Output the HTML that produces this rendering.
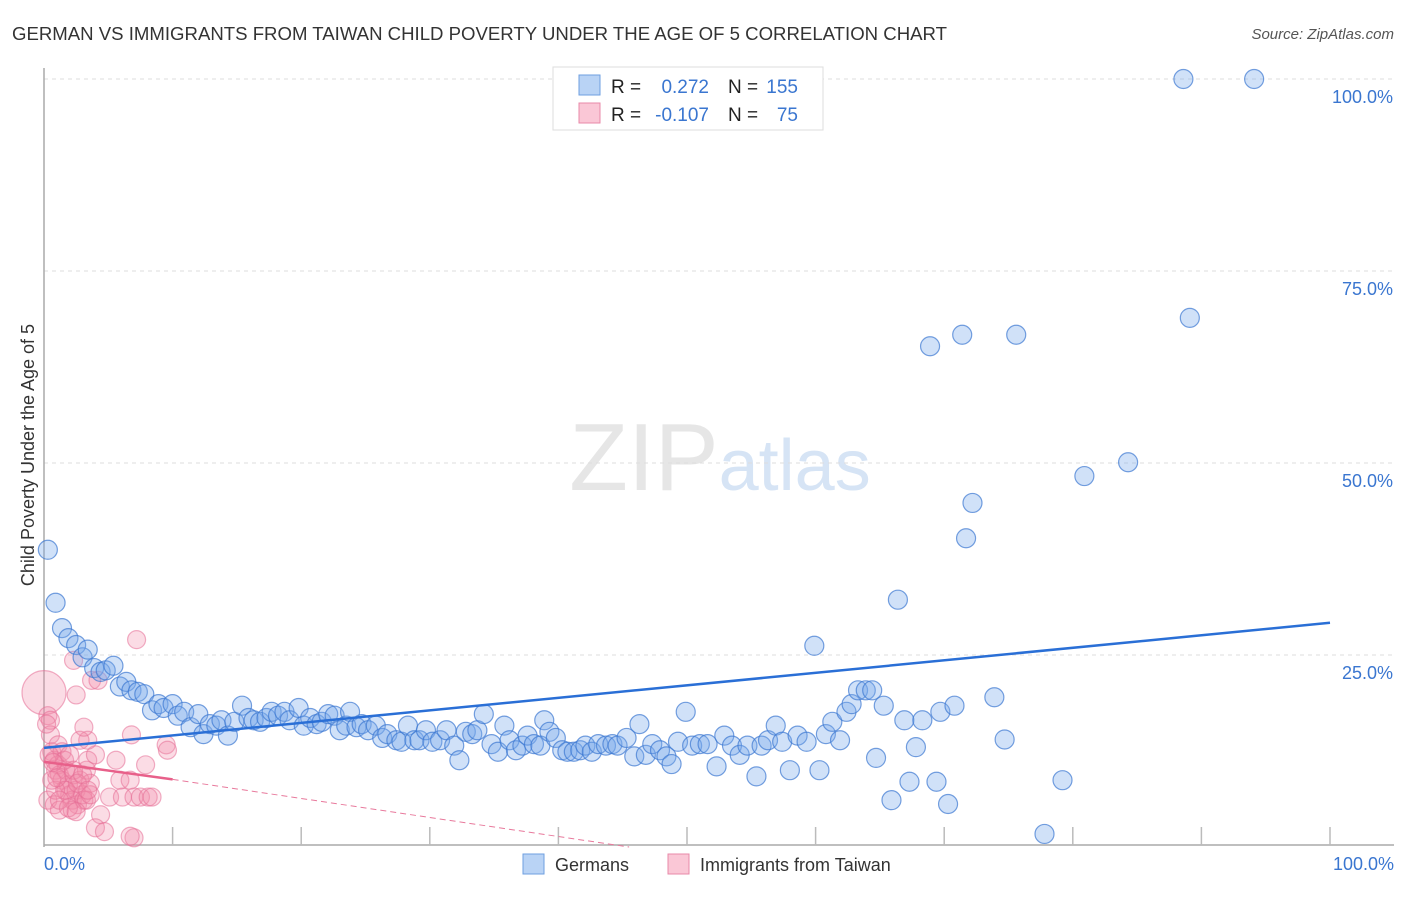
<!DOCTYPE html>
<html><head><meta charset="utf-8"><style>
body{margin:0;background:#fff;font-family:"Liberation Sans",sans-serif;}
svg text{font-family:"Liberation Sans",sans-serif;}
</style></head><body>
<svg id="chart" width="1406" height="892" viewBox="0 0 1406 892">
<text x="12" y="40" font-size="18.6" fill="#333">GERMAN VS IMMIGRANTS FROM TAIWAN CHILD POVERTY UNDER THE AGE OF 5 CORRELATION CHART</text>
<text x="1394" y="39" font-size="15" fill="#555" text-anchor="end" font-style="italic">Source: ZipAtlas.com</text>
<text x="720" y="490" font-size="96" fill="#e6e6e6" text-anchor="middle" font-family="Liberation Serif">ZIP<tspan fill="#d6e4f5" font-family="Liberation Sans" font-size="72">atlas</tspan></text>
<g id="grid"></g><g id="axes"></g><g id="pink"></g><g id="blue"></g><g id="lines"></g>
<text transform="translate(34,455) rotate(-90)" font-size="18" fill="#333" text-anchor="middle">Child Poverty Under the Age of 5</text>
<text x="44" y="870" font-size="18" fill="#3a76d0">0.0%</text>
<text x="1394" y="870" font-size="18" fill="#3a76d0" text-anchor="end">100.0%</text>
<g>
<rect x="553" y="67" width="270" height="63" fill="#fff" stroke="#ddd"/>
<rect x="579" y="75" width="21" height="20" fill="#b9d3f5" stroke="#6e9fe0"/>
<rect x="579" y="103" width="21" height="20" fill="#fac7d6" stroke="#e889a8"/>
<text x="611" y="93" font-size="19" fill="#222">R =</text><text x="709" y="93" font-size="19" fill="#3a76d0" text-anchor="end">0.272</text>
<text x="728" y="93" font-size="19" fill="#222">N =</text><text x="798" y="93" font-size="19" fill="#3a76d0" text-anchor="end">155</text>
<text x="611" y="121" font-size="19" fill="#222">R =</text><text x="709" y="121" font-size="19" fill="#3a76d0" text-anchor="end">-0.107</text>
<text x="728" y="121" font-size="19" fill="#222">N =</text><text x="798" y="121" font-size="19" fill="#3a76d0" text-anchor="end">75</text>
</g>
<g>
<rect x="523" y="854" width="21" height="20" fill="#b9d3f5" stroke="#6e9fe0"/>
<text x="555" y="871" font-size="18" fill="#333">Germans</text>
<rect x="668" y="854" width="21" height="20" fill="#fac7d6" stroke="#e889a8"/>
<text x="700" y="871" font-size="18" fill="#333">Immigrants from Taiwan</text>
</g>
</svg>
<script>
const yTicks=[25,50,75,100];
const yTickLabels=["25.0%","50.0%","75.0%","100.0%"];
const xTicks=[0,10,20,30,40,50,60,70,80,90,100];
const blueX=[0.3,0.9,1.4,1.9,2.5,3.0,3.4,3.9,4.4,4.8,5.4,5.9,6.4,6.8,7.3,7.8,8.4,8.9,9.3,10.0,10.4,10.9,11.4,12.0,12.4,12.9,13.4,13.8,14.3,14.8,15.4,15.9,16.3,16.8,17.3,17.7,18.2,18.7,19.1,19.8,20.2,20.7,21.2,21.6,22.1,22.6,23.0,23.5,23.8,24.3,24.7,25.2,25.8,26.3,26.7,27.4,27.8,28.3,28.8,29.2,29.7,30.2,30.8,31.3,31.9,32.3,32.8,33.3,33.7,34.2,34.8,35.3,35.8,36.2,36.7,37.2,37.6,38.1,38.6,38.9,39.3,39.8,40.3,40.7,41.2,41.7,42.1,42.6,43.1,43.7,44.2,44.6,45.3,45.9,46.3,46.8,47.3,47.9,48.4,48.8,49.3,49.9,50.4,51.0,51.6,52.3,52.9,53.5,54.1,54.7,55.4,55.8,56.3,56.9,57.4,58.0,58.6,59.3,59.9,60.3,60.8,61.3,61.9,62.4,62.8,63.3,63.9,64.4,64.7,65.3,65.9,66.4,66.9,67.3,67.8,68.3,68.9,69.4,69.7,70.3,70.8,71.4,71.7,72.2,73.9,74.7,75.6,77.8,79.2,80.9,84.3,88.6,89.1,94.1];
const blueY=[38.7,31.8,28.5,27.2,26.3,24.7,25.7,23.3,22.8,23.0,23.6,20.9,21.5,20.4,20.2,19.9,17.8,18.6,18.1,18.6,17.1,17.6,15.6,17.3,14.7,16.0,15.8,16.5,14.5,16.3,18.4,16.8,16.5,16.3,16.8,17.6,17.1,17.6,16.5,18.1,15.8,16.8,16.0,16.3,17.3,17.1,15.2,15.8,17.6,15.6,16.0,15.2,15.8,14.2,14.7,13.9,13.7,15.8,13.9,13.9,15.2,13.7,13.9,15.2,13.2,11.3,15.0,14.7,15.2,17.3,13.4,12.4,15.8,13.9,12.6,13.2,14.5,13.4,13.2,16.5,15.0,14.2,12.6,12.4,12.4,12.6,13.2,12.4,13.4,13.2,13.4,13.2,14.2,11.8,16.0,12.0,13.4,12.6,11.8,10.8,13.7,17.6,13.2,13.4,13.4,10.5,14.5,13.2,12.0,13.2,9.2,13.2,13.9,15.8,13.7,10.0,14.5,13.7,26.2,10.0,14.7,16.3,13.9,17.6,18.6,20.4,20.4,20.4,11.6,18.4,6.1,32.2,16.5,8.5,13.0,16.5,65.2,8.5,17.6,5.6,18.4,66.7,40.2,44.8,19.5,14.0,66.7,1.7,8.7,48.3,50.1,100,68.9,100];
const pinkX=[0,0.3,0.5,0.5,0.6,0.8,0.9,1.1,1.2,1.4,1.6,1.7,1.9,2.0,2.2,2.3,2.5,2.6,2.8,3.0,3.1,3.3,3.4,3.6,3.7,4.0,4.4,2.3,2.5,4.2,3.4,0.3,0.8,1.2,1.7,2.2,2.8,3.1,4.0,4.7,5.1,5.6,5.9,6.1,6.8,7.2,6.7,7.0,7.5,7.9,8.1,8.4,9.5,9.6,7.0,6.7,1.1,1.4,1.6,2.0,2.3,2.6,3.0,3.3,3.6,0.9,0.6,1.2,1.9,2.5,3.4,0.2,0.4,0.7,1.0];
const pinkY=[20.1,17.1,16.5,14.6,12.4,11.3,10.0,10.7,9.4,8.7,7.4,10.0,8.1,6.8,6.1,9.4,7.4,5.5,8.7,6.8,6.1,10.0,11.3,8.3,21.7,12.0,4.2,24.3,19.8,21.7,13.9,6.1,5.5,4.8,7.4,4.8,13.9,15.6,2.5,2.0,6.5,11.3,8.7,6.5,14.6,27.0,8.7,6.5,6.5,10.7,6.5,6.5,13.3,12.6,1.2,1.4,13.3,12.4,11.3,12.0,10.0,8.3,9.4,6.1,6.8,7.4,8.7,6.1,5.1,4.6,7.4,16.0,12.0,11.0,9.0];
const blueTrend=[12.9,29.2];
const pinkTrend=[11.1,8.8,0.0];
const pinkTrendX=[0,10,45.5];
const X0=44,X1=1330,Y0=847,Y1=79;
const sx=v=>X0+(X1-X0)*v/100, sy=v=>Y0-(Y0-Y1)*v/100;
const NS="http://www.w3.org/2000/svg";
function mk(tag,attrs,parent){const e=document.createElementNS(NS,tag);for(const k in attrs)e.setAttribute(k,attrs[k]);document.getElementById(parent).appendChild(e);return e;}
yTicks.forEach((t,i)=>{
 const g=mk('line',{x1:X0,x2:1394,y1:sy(t),y2:sy(t),stroke:'#ddd','stroke-dasharray':'4,4'},'grid');
 
 
 const l=mk('text',{x:1393,y:sy(t)+24,'font-size':18,fill:'#3a76d0','text-anchor':'end'},'grid');
 l.textContent=yTickLabels[i];
 
 
});
const ax=mk('line',{x1:X0,x2:X0,y1:68,y2:Y0,stroke:'#aaa','stroke-width':1.5},'axes');


const bx=mk('line',{x1:X0,x2:X1+64,y1:Y0-2,y2:Y0-2,stroke:'#aaa','stroke-width':1.5},'axes');


xTicks.forEach(t=>{if(t===0)return;
 const k=mk('line',{x1:sx(t),x2:sx(t),y1:827,y2:Y0-2,stroke:'#bbb','stroke-width':1.5},'axes');
 
 
});
pinkX.forEach((x,i)=>{
 const c=mk('circle',{cx:sx(x),cy:sy(pinkY[i]),r:i===0?22:9,fill:'rgba(242,140,170,0.3)',stroke:'rgba(230,110,150,0.55)','stroke-width':1.2},'pink');
 
 
});
blueX.forEach((x,i)=>{
 const c=mk('circle',{cx:sx(x),cy:sy(blueY[i]),r:9.5,fill:'rgba(120,170,235,0.35)',stroke:'rgba(60,120,210,0.7)','stroke-width':1.2},'blue');
 
 
});
const bl=mk('line',{x1:sx(0),y1:sy(blueTrend[0]),x2:sx(100),y2:sy(blueTrend[1]),stroke:'#2a6fd6','stroke-width':2.5},'lines');


const pl=mk('line',{x1:sx(pinkTrendX[0]),y1:sy(pinkTrend[0]),x2:sx(pinkTrendX[1]),y2:sy(pinkTrend[1]),stroke:'#e8608a','stroke-width':2.5},'lines');


const pd=mk('line',{x1:sx(pinkTrendX[1]),y1:sy(pinkTrend[1]),x2:sx(pinkTrendX[2]),y2:sy(pinkTrend[2]),stroke:'#e8799c','stroke-width':1,'stroke-dasharray':'6,4'},'lines');


</script>
</body></html>
